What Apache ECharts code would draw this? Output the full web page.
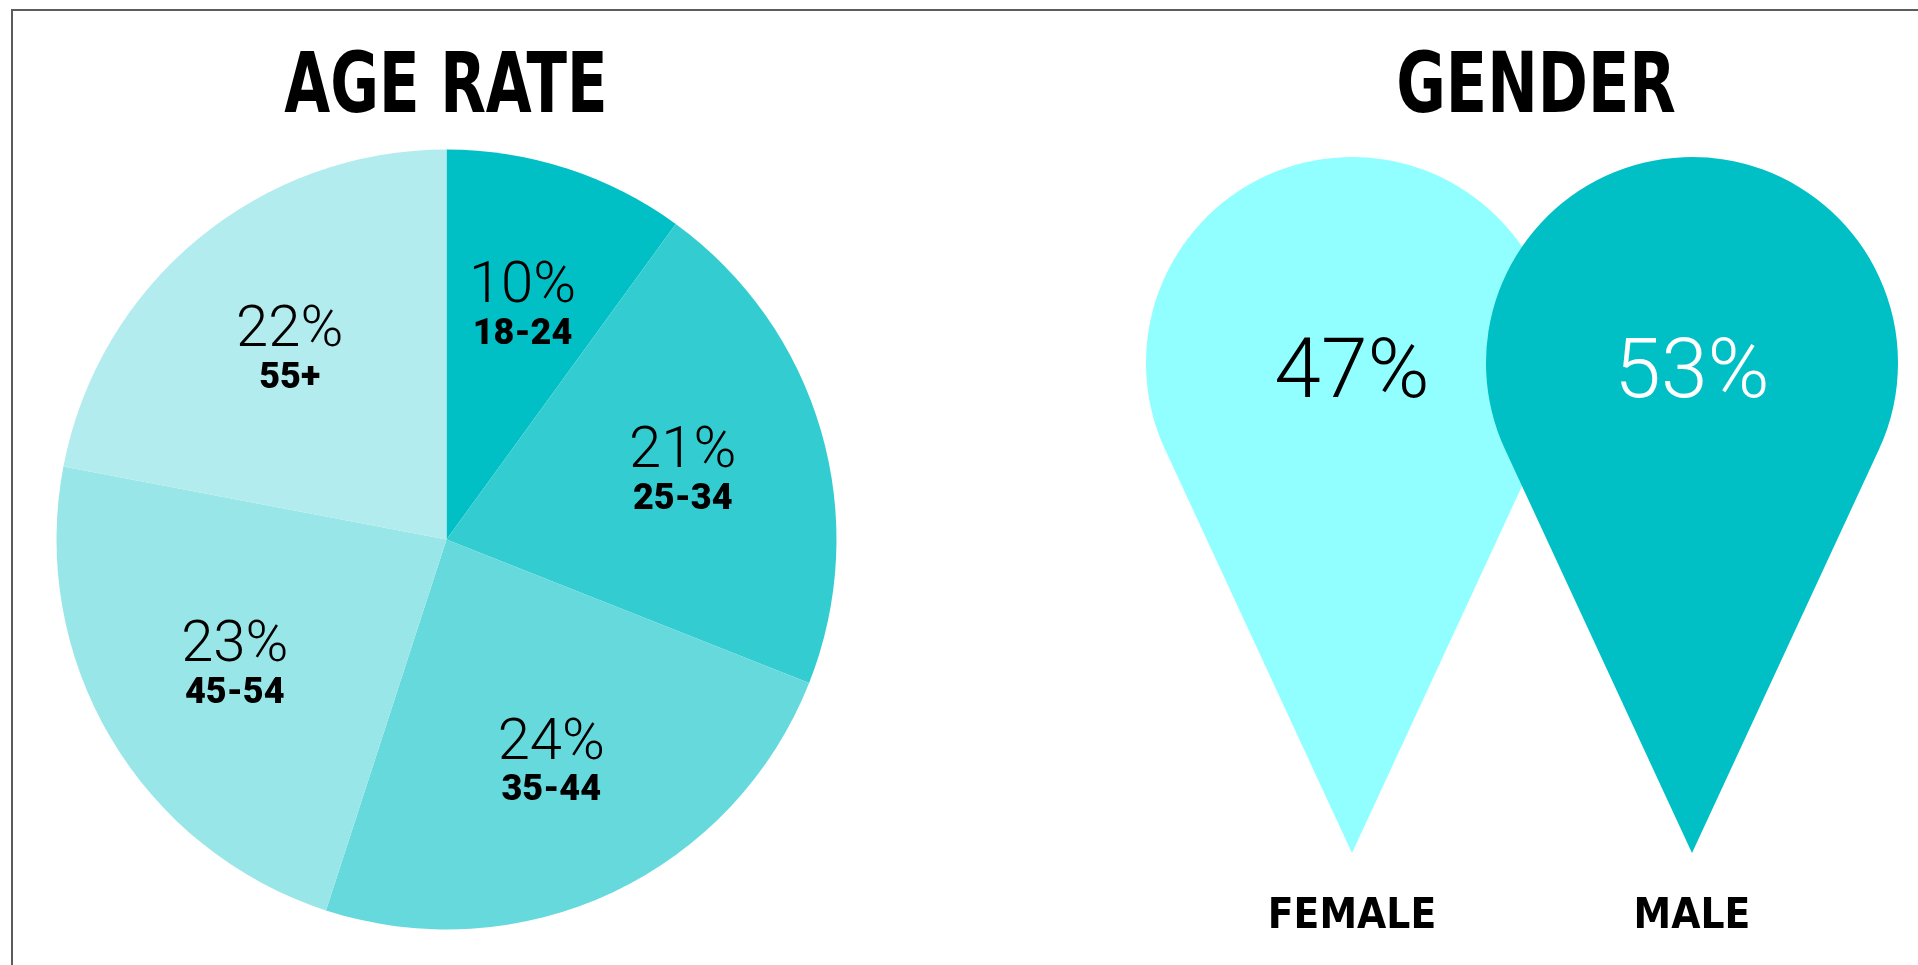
<!DOCTYPE html>
<html>
<head>
<meta charset="utf-8">
<style>
  html, body { margin: 0; padding: 0; background: #ffffff; }
  #chart { width: 1918px; height: 965px; }
</style>
<script src="https://cdn.jsdelivr.net/npm/echarts@6/dist/echarts.min.js"></script>
</head>
<body>
<div id="chart"></div>
<script>
// ---- data ----
const ageTitle = 'AGE RATE';
const genderTitle = 'GENDER';
const ageGroups = ['18-24', '25-34', '35-44', '45-54', '55+'];
const ageShares = [10, 21, 24, 23, 22];
const genders = ['FEMALE', 'MALE'];
const genderShares = [47, 53];

// ---- styles ----
const ageColors = ['#00C0C6', '#33CDD1', '#66D9DC', '#99E6E8', '#B2ECEE'];
const genderColors = ['#91FFFF', '#00C0C6'];
const genderTextColors = ['#000000', '#ffffff'];
const NARROW = '"Liberation Sans Narrow", "DejaVu Sans Condensed", "Arial Narrow", sans-serif';
const THIN = 'Roboto, "Open Sans", sans-serif';
const PIN = 'path://M-90.74,42.04A100,100,0,1,1,90.74,42.04L0,237.9Z';

const chart = echarts.init(document.getElementById('chart'), null, { renderer: 'canvas' });

const pieData = ageGroups.map((name, i) => ({
  name: name,
  value: ageShares[i],
  itemStyle: { color: ageColors[i] }
}));

const option = {
  animation: false,
  backgroundColor: '#ffffff',
  graphic: [
    {
      type: 'rect', z: 0, silent: true,
      shape: { x: 12, y: 10, width: 4000, height: 4000 },
      style: { fill: 'none', stroke: '#5c5c5c', lineWidth: 2 }
    },
    {
      type: 'text', x: 446, y: 90, scaleX: 0.785, silent: true,
      style: {
        text: ageTitle, fill: '#000', align: 'center', verticalAlign: 'middle',
        font: 'bold 84px ' + NARROW
      }
    },
    {
      type: 'text', x: 1536, y: 90, scaleX: 0.8, silent: true,
      style: {
        text: genderTitle, fill: '#000', align: 'center', verticalAlign: 'middle',
        font: 'bold 84px ' + NARROW
      }
    }
  ],
  grid: { left: 1182, right: 56, top: 157, bottom: 112 },
  xAxis: {
    type: 'category',
    data: genders,
    boundaryGap: true,
    axisLine: { show: false },
    axisTick: { show: false },
    splitLine: { show: false },
    axisLabel: {
      margin: 43,
      color: '#000',
      fontFamily: NARROW,
      fontWeight: 'bold',
      fontSize: 42
    }
  },
  yAxis: {
    type: 'category',
    data: ['share'],
    show: false
  },
  series: [
    {
      type: 'pie',
      silent: true,
      center: [446.5, 539.5],
      radius: [0, 390],
      startAngle: 90,
      clockwise: true,
      data: pieData,
      itemStyle: { borderWidth: 0 },
      label: { show: false },
      labelLine: { show: false }
    },
    {
      type: 'pie',
      silent: true,
      center: [446.5, 539.5],
      radius: [200, 286],
      startAngle: 90,
      clockwise: true,
      data: ageGroups.map((name, i) => ({ name: name, value: ageShares[i] })),
      itemStyle: { color: 'transparent', borderWidth: 0 },
      labelLine: { show: false },
      label: {
        show: true,
        position: 'inside',
        formatter: p => '{p|' + p.value + '%}\n{n|' + p.name + '}',
        rich: {
          p: { fontFamily: THIN, fontWeight: 300, fontSize: 58, lineHeight: 58, color: '#000', align: 'center' },
          n: { fontFamily: THIN, fontWeight: 900, fontSize: 36, lineHeight: 36, color: '#000', align: 'center' }
        }
      }
    },
    {
      type: 'scatter',
      silent: true,
      symbol: PIN,
      symbolSize: [412, 696],
      itemStyle: { opacity: 1 },
      data: genders.map((g, i) => ({
        value: [g, 'share', genderShares[i]],
        itemStyle: { color: genderColors[i], opacity: 1 },
        label: { color: genderTextColors[i] }
      })),
      label: {
        show: true,
        position: ['50%', '31.5%'],
        align: 'center',
        verticalAlign: 'middle',
        formatter: p => p.value[2] + '%',
        fontFamily: THIN,
        fontWeight: 300,
        fontSize: 84
      }
    }
  ]
};

chart.setOption(option);
</script>
</body>
</html>
